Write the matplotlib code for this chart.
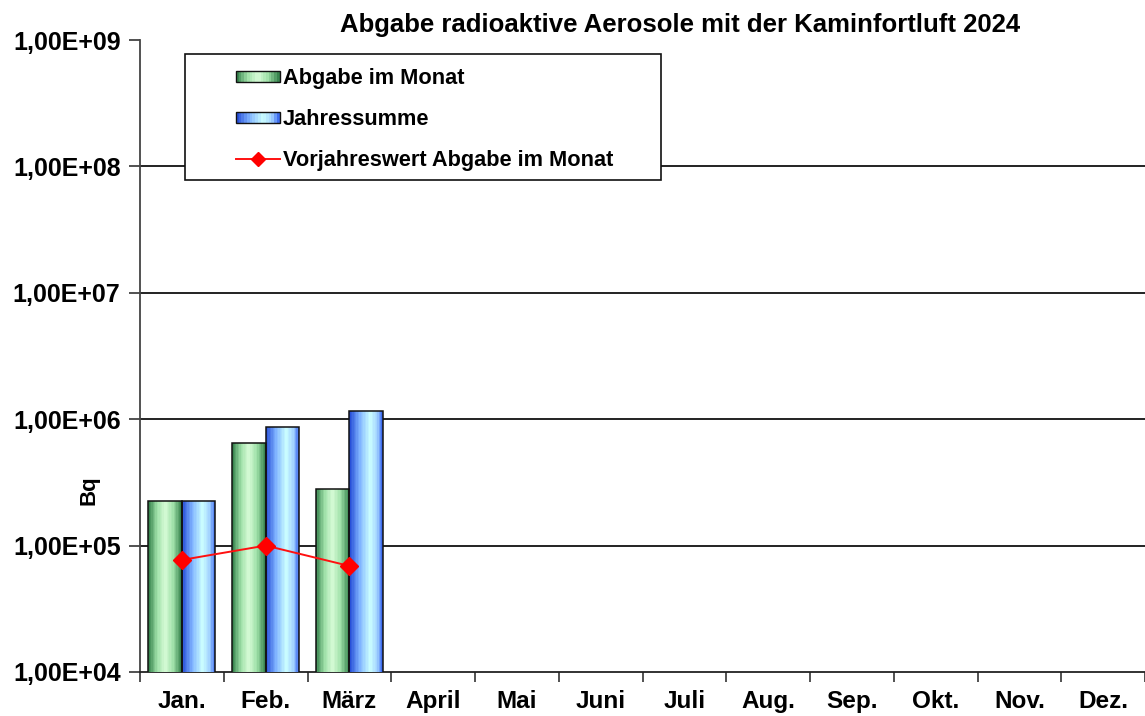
import matplotlib
matplotlib.use("Agg")
import matplotlib.pyplot as plt
import numpy as np
from matplotlib.colors import LinearSegmentedColormap
from matplotlib.legend_handler import HandlerBase
from matplotlib.lines import Line2D
from matplotlib.patches import Rectangle, Patch

plt.rcParams["font.family"] = ["Liberation Sans", "DejaVu Sans"]
plt.rcParams["font.weight"] = "bold"

months = ["Jan.", "Feb.", "März", "April", "Mai", "Juni", "Juli",
          "Aug.", "Sep.", "Okt.", "Nov.", "Dez."]
abgabe_monat = [2.25e5, 6.5e5, 2.8e5]
jahressumme = [2.25e5, 8.7e5, 1.16e6]
vorjahr_monat = [7.7e4, 1.0e5, 6.9e4]
yticks = [1e4, 1e5, 1e6, 1e7, 1e8, 1e9]
ytick_labels = ["1,00E+04", "1,00E+05", "1,00E+06", "1,00E+07", "1,00E+08", "1,00E+09"]

green_cm = LinearSegmentedColormap.from_list(
    "g", ["#3a8650", "#9fe0a8", "#d6fbd6", "#9fe0a8", "#3a8650"])
blue_cm = LinearSegmentedColormap.from_list(
    "b", [(0, "#2850d8"), (0.3, "#80b4ff"), (0.62, "#ccffff"),
          (0.85, "#a0d0ff"), (1, "#3f6ef0")])

N_STRIPS = 24
BAR_W = 0.4


def gradient_bars(ax, xs, vals, cmap):
    for x, v in zip(xs, vals):
        x0 = x - BAR_W / 2
        sw = BAR_W / N_STRIPS
        for k in range(N_STRIPS):
            ax.bar(x0 + (k + 0.5) * sw, v, width=sw * 1.02, color=cmap(k / (N_STRIPS - 1)),
                   linewidth=0, zorder=3)
        ax.bar(x, v, width=BAR_W, fill=False, edgecolor="#111111", linewidth=1.1, zorder=4)


class GradientHandler(HandlerBase):
    def __init__(self, cmap):
        super().__init__()
        self.cmap = cmap

    def create_artists(self, legend, orig_handle, xdescent, ydescent, width, height,
                       fontsize, trans):
        arts = []
        h = height * 0.7
        y0 = -ydescent + (height - h) / 2
        n = 16
        for k in range(n):
            r = Rectangle((-xdescent + k * width / n, y0), width / n * 1.05, h,
                          facecolor=self.cmap(k / (n - 1)), linewidth=0, transform=trans)
            arts.append(r)
        arts.append(Rectangle((-xdescent, y0), width, h, fill=False,
                              edgecolor="#111111", linewidth=1.0, transform=trans))
        return arts


fig = plt.figure(figsize=(11.45, 7.16), dpi=100)
ax = fig.add_axes([0.1223, 0.0615, 0.8777, 0.8826])

x = np.arange(len(months))
gradient_bars(ax, x[:len(abgabe_monat)] - 0.2, abgabe_monat, green_cm)
gradient_bars(ax, x[:len(jahressumme)] + 0.2, jahressumme, blue_cm)
ax.plot(x[:len(vorjahr_monat)], vorjahr_monat, color="#ff1010", lw=1.4,
        marker="D", ms=9, mfc="#ff0000", mec="#ff0000", zorder=5)

ax.set_yscale("log")
ax.set_ylim(1e4, 1e9)
ax.set_xlim(-0.5, len(months) - 0.5)
ax.set_yticks(yticks)
ax.set_yticklabels(ytick_labels, fontsize=18, fontweight="bold")
ax.yaxis.set_minor_locator(matplotlib.ticker.NullLocator())
for yv in yticks[1:-1]:
    ax.axhline(yv, color="#111111", lw=1.3, zorder=1)

ax.set_xticks(np.arange(len(months) + 1) - 0.5)
ax.set_xticklabels([])
ax.set_xticks(x, minor=True)
ax.set_xticklabels(months, minor=True, fontsize=17.5, fontweight="bold")
ax.tick_params(axis="x", which="minor", length=0, pad=13)
ax.tick_params(axis="x", which="major", length=7, width=1.2, color="#333333")
ax.tick_params(axis="y", length=8, width=1.2, color="#333333", pad=6)

for s in ["top", "right"]:
    ax.spines[s].set_visible(False)
ax.spines["left"].set_color("#444444")
ax.spines["left"].set_linewidth(1.3)
ax.spines["bottom"].set_color("#222222")
ax.spines["bottom"].set_linewidth(1.3)

ax.set_ylabel("Bq", fontsize=16, fontweight="bold")
ax.yaxis.set_label_coords(-0.040, 0.288)

ax.set_title("Abgabe radioaktive Aerosole mit der Kaminfortluft 2024",
             fontsize=18.5, fontweight="bold", x=0.537, pad=6)

# legend box
ax.add_patch(Rectangle((0.045, 0.778), 0.473, 0.2, transform=ax.transAxes,
                       facecolor="white", edgecolor="#111111", lw=1.2, zorder=6))
h_green = Patch(label="Abgabe im Monat")
h_blue = Patch(label="Jahressumme")
h_red = Line2D([], [], color="#ff1010", lw=1.4, marker="D", ms=7, mfc="#ff0000",
               mec="#ff0000", label="Vorjahreswert Abgabe im Monat")
leg = ax.legend(handles=[h_green, h_blue, h_red], loc="upper left",
                bbox_to_anchor=(0.076, 0.987), frameon=False, fontsize=15.7,
                handlelength=2.0, handletextpad=0.15, labelspacing=0.93,
                handler_map={h_green: GradientHandler(green_cm),
                             h_blue: GradientHandler(blue_cm)})
leg.set_zorder(7)

fig.savefig("out.png", dpi=100)
